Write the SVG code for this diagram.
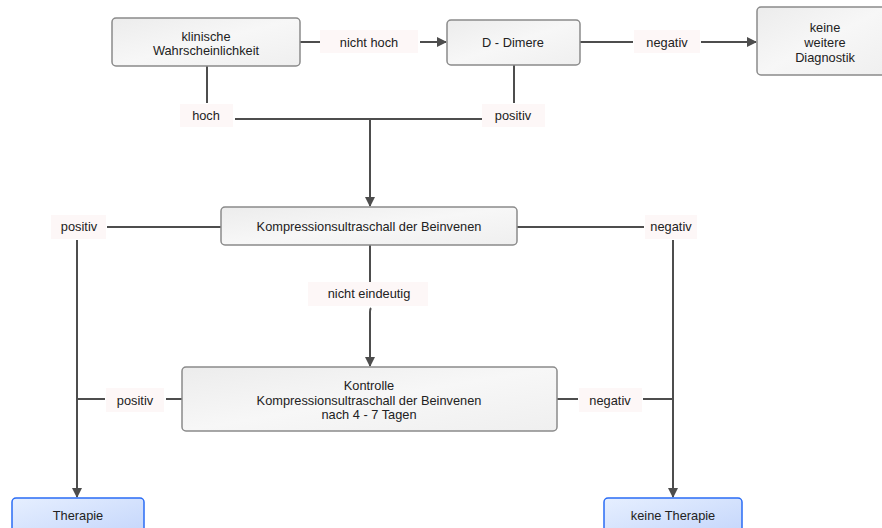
<svg xmlns="http://www.w3.org/2000/svg" width="882" height="528" viewBox="0 0 882 528">
<defs>
<linearGradient id="g" x1="0" y1="0" x2="1" y2="1">
<stop offset="0" stop-color="#ececec"/>
<stop offset="0.5" stop-color="#f7f7f7"/>
<stop offset="1" stop-color="#efefef"/>
</linearGradient>
<linearGradient id="b" x1="0" y1="0" x2="1" y2="1">
<stop offset="0" stop-color="#e6efff"/>
<stop offset="1" stop-color="#c3d5fb"/>
</linearGradient>
<marker id="a" markerWidth="10" markerHeight="10" refX="9" refY="5" orient="auto" markerUnits="userSpaceOnUse">
<path d="M0,0 L10,5 L0,10 Z" fill="#4d4d4d"/>
</marker>
</defs>
<style>
.n{fill:url(#g);stroke:#8a8a8a;stroke-width:1.5}
.t{fill:url(#b);stroke:#2a6cf5;stroke-width:1.5}
.c{fill:none;stroke:#4d4d4d;stroke-width:2}
.l{fill:#fdf7f7}
text{font-family:"Liberation Sans",Arial,sans-serif;font-size:12.8px;fill:#222;text-anchor:middle}
</style>
<rect width="882" height="528" fill="#fff"/>
<g id="connectors">
<path class="c" d="M300,42 H320"/>
<path class="c" d="M420,42 H446" marker-end="url(#a)"/>
<path class="c" d="M580,42 H633"/>
<path class="c" d="M701,42 H756" marker-end="url(#a)"/>
<path class="c" d="M207,66 V103"/>
<path class="c" d="M514,65 V103"/>
<path class="c" d="M235,119 H482"/>
<path class="c" d="M370,119 V206" marker-end="url(#a)"/>
<path class="c" d="M107,227 H221"/>
<path class="c" d="M517,227 H644"/>
<path class="c" d="M77,240 V497" marker-end="url(#a)"/>
<path class="c" d="M673,240 V497" marker-end="url(#a)"/>
<path class="c" d="M370,245 V282"/>
<path class="c" d="M371,308 Q370,309 370,312 V366" marker-end="url(#a)"/>
<path class="c" d="M77,399 H105"/>
<path class="c" d="M166,399 H182"/>
<path class="c" d="M557,399 H578"/>
<path class="c" d="M643,399 H673"/>
<rect class="l" x="320" y="30" width="98" height="23"/>
<text x="369" y="47">nicht hoch</text>
<rect class="l" x="634" y="30" width="66" height="23"/>
<text x="667" y="47">negativ</text>
<rect class="l" x="180" y="104" width="53" height="23"/>
<text x="206" y="120">hoch</text>
<rect class="l" x="482" y="104" width="63" height="23"/>
<text x="513" y="120">positiv</text>
<rect class="l" x="51" y="215" width="55" height="24"/>
<text x="79" y="231">positiv</text>
<rect class="l" x="645" y="215" width="52" height="24"/>
<text x="671" y="231">negativ</text>
<rect class="l" x="308" y="282" width="120" height="24"/>
<text x="369" y="298">nicht eindeutig</text>
<rect class="l" x="106" y="388" width="58" height="24"/>
<text x="135" y="405">positiv</text>
<rect class="l" x="579" y="388" width="63" height="24"/>
<text x="610" y="405">negativ</text>
</g>
<g id="klinisch">
<rect class="n" x="112" y="18" width="188" height="48" rx="4"/>
<text x="206" y="41">klinische</text>
<text x="206" y="55">Wahrscheinlichkeit</text>
</g>
<g id="ddimere">
<rect class="n" x="447" y="20" width="133" height="45" rx="4"/>
<text x="513" y="47">D - Dimere</text>
</g>
<g id="keineweitere">
<rect class="n" x="757" y="7" width="130" height="68" rx="4"/>
<text x="825" y="32">keine</text>
<text x="825" y="47">weitere</text>
<text x="825" y="62">Diagnostik</text>
</g>
<g id="kus">
<rect class="n" x="221" y="207" width="296" height="38" rx="4"/>
<text x="369" y="231">Kompressionsultraschall der Beinvenen</text>
</g>
<g id="kontrolle">
<rect class="n" x="182" y="367" width="375" height="64" rx="4"/>
<text x="369" y="390">Kontrolle</text>
<text x="369" y="405">Kompressionsultraschall der Beinvenen</text>
<text x="369" y="419">nach 4 - 7 Tagen</text>
</g>
<g id="therapie">
<rect class="t" x="12" y="498" width="132" height="40" rx="4"/>
<text x="78" y="520">Therapie</text>
</g>
<g id="keinetherapie">
<rect class="t" x="604" y="498" width="138" height="40" rx="4"/>
<text x="673" y="520">keine Therapie</text>
</g>
</svg>
